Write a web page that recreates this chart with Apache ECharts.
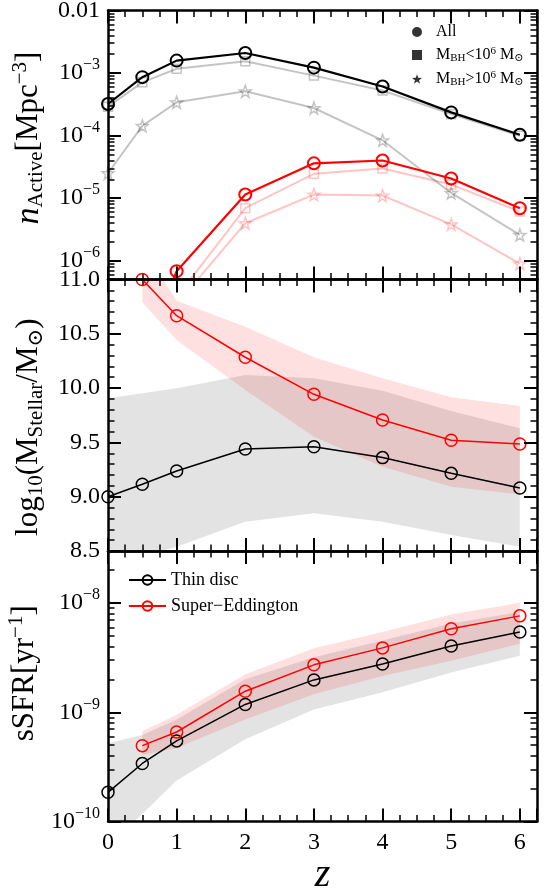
<!DOCTYPE html>
<html><head><meta charset="utf-8">
<script src="https://cdn.jsdelivr.net/npm/echarts@6/dist/echarts.min.js"></script>
<style>html,body{margin:0;padding:0;background:#fff}#c{width:547px;height:896px}</style>
</head><body><div id="c"></div>
<script>
// ---------- data ----------
const zTD = [0, 0.5, 1, 2, 3, 4, 5, 6];
const zSE = [0.5, 1, 2, 3, 4, 5, 6];
const zSEsub = [1, 2, 3, 4, 5, 6];

// panel 1: number density of active BHs [Mpc^-3]
const nTD_all  = [3.2e-4, 8.6e-4, 1.58e-3, 2.09e-3, 1.22e-3, 6.1e-4, 2.35e-4, 1.03e-4];
const nTD_low  = [2.9e-4, 7.1e-4, 1.17e-3, 1.54e-3, 9.1e-4, 5.25e-4, 2.2e-4, 9.9e-5];
const nTD_high = [2.5e-5, 1.43e-4, 3.4e-4, 5.1e-4, 2.76e-4, 8.4e-5, 1.21e-5, 2.58e-6];
const nSE_all  = [3e-8, 6.8e-7, 1.14e-5, 3.6e-5, 4.0e-5, 2.06e-5, 6.9e-6];
const nSE_low  = [2.6e-7, 6.9e-6, 2.45e-5, 2.98e-5, 1.65e-5, 6.1e-6];
const nSE_high = [2.0e-7, 3.97e-6, 1.14e-5, 1.1e-5, 3.8e-6, 9.0e-7];

// panel 2: log10 stellar mass
const mTD    = [9.0, 9.115, 9.237, 9.44, 9.46, 9.36, 9.215, 9.08];
const mTD_hi = [9.906, 9.952, 9.998, 10.12, 10.09, 9.976, 9.79, 9.63];
const mTD_lo = [8.35, 8.45, 8.54, 8.77, 8.847, 8.77, 8.647, 8.54];
const mSE    = [11.0, 10.667, 10.284, 9.943, 9.706, 9.52, 9.485];
const mSE_hi = [11.3, 10.805, 10.565, 10.284, 10.09, 9.915, 9.835];
const mSE_lo = [10.79, 10.443, 9.982, 9.553, 9.276, 9.092, 9.02];

// panel 3: sSFR [yr^-1]
const sTD    = [1.85e-10, 3.4e-10, 5.47e-10, 1.18e-9, 1.98e-9, 2.77e-9, 4.04e-9, 5.43e-9];
const sTD_hi = [5.2e-10, 6.2e-10, 8.6e-10, 2.01e-9, 3.19e-9, 4.54e-9, 6.5e-9, 8.3e-9];
const sTD_lo = [6e-11, 1.17e-10, 2.38e-10, 5.67e-10, 1.06e-9, 1.53e-9, 2.32e-9, 3.3e-9];
const sSE    = [4.95e-10, 6.6e-10, 1.56e-9, 2.72e-9, 3.89e-9, 5.83e-9, 7.64e-9];
const sSE_hi = [6.7e-10, 9.5e-10, 2.23e-9, 3.86e-9, 5.43e-9, 7.85e-9, 1.01e-8];
const sSE_lo = [4.07e-10, 4.7e-10, 8.6e-10, 1.46e-9, 2.15e-9, 2.96e-9, 4.24e-9];

// log-axis minor tick values (2..9 x 10^k)
const nMinorTicks = [6e-7,7e-7,8e-7,9e-7,2e-6,3e-6,4e-6,5e-6,6e-6,7e-6,8e-6,9e-6,2e-5,3e-5,4e-5,5e-5,6e-5,7e-5,8e-5,9e-5,2e-4,3e-4,4e-4,5e-4,6e-4,7e-4,8e-4,9e-4,2e-3,3e-3,4e-3,5e-3,6e-3,7e-3,8e-3,9e-3];
const sMinorTicks = [2e-10,3e-10,4e-10,5e-10,6e-10,7e-10,8e-10,9e-10,2e-9,3e-9,4e-9,5e-9,6e-9,7e-9,8e-9,9e-9,2e-8];

// ---------- styling ----------
const SERIF = '"Liberation Serif","DejaVu Serif",serif';
const STAR = 'path://M0,-10L2.35,-3.24L9.51,-3.09L3.8,1.24L5.88,8.09L0,4L-5.88,8.09L-3.8,1.24L-9.51,-3.09L-2.35,-3.24Z';
const GREY = 'rgba(0,0,0,0.23)';
const PINK = 'rgba(255,0,0,0.23)';
const GREYBAND = 'rgba(0,0,0,0.11)';
const PINKBAND = 'rgba(255,0,0,0.12)';
const TRANSP = 'rgba(0,0,0,0)';
const MINLEN = 6.5;

const pairs = (xs, ys) => xs.map((x, i) => [x, ys[i]]);

const panelBoxes = [
  {left: 108, right: 10, top: 10.5, height: 269},
  {left: 108, right: 10, top: 279.5, height: 271.5},
  {left: 108, right: 10, top: 551, height: 270.5}
];
// grids 0-2: data + major ticks; grids 3-5: same boxes, minor ticks
const grids = panelBoxes.map(b => Object.assign({containLabel: false, outerBoundsMode: 'none'}, b))
  .concat(panelBoxes.map(b => Object.assign({containLabel: false, outerBoundsMode: 'none'}, b)));

const frameLine = () => ({show: true, onZero: false, lineStyle: {color: '#000', width: 2.5}});
const ghostLine = () => ({show: true, onZero: false, lineStyle: {color: TRANSP, width: 1}});
const ghostSplit = () => ({show: true, lineStyle: {color: TRANSP, width: 1}});
const ghostLabel = () => ({show: true, inside: true, color: TRANSP, fontSize: 6, formatter: () => '.'});
const majTick = () => ({show: true, inside: true, length: 13, lineStyle: {color: '#000', width: 2}});
// minor ticks: outward ticks on an axis shifted inward by their own length => they end on the frame
const minTick = () => ({show: true, inside: false, length: MINLEN, lineStyle: {color: '#000', width: 1.5}});

const labRich = {
  b: {fontSize: 24, fontFamily: SERIF, color: '#000', lineHeight: 32},
  s: {fontSize: 16, fontFamily: SERIF, color: '#000', lineHeight: 16, verticalAlign: 'top'}
};
const titleRich = {
  b: {fontSize: 31, fontFamily: SERIF, color: '#000', lineHeight: 37},
  i: {fontSize: 34, fontFamily: SERIF, fontStyle: 'italic', color: '#000', lineHeight: 37},
  sub: {fontSize: 21, fontFamily: SERIF, color: '#000', lineHeight: 21, verticalAlign: 'bottom'},
  sup: {fontSize: 21, fontFamily: SERIF, color: '#000', lineHeight: 21, verticalAlign: 'top'}
};

function logLabel(v) {
  const l = Math.log10(v), e = Math.round(l);
  if (Math.abs(l - e) > 1e-6) return '';
  if (e === -2) return '{b|0.01}';
  return '{b|10}{s|\u2212' + (-e) + '}';
}

const xAxes = [], yAxes = [];
// x axes: [2g] bottom, [2g+1] top on grid g (major)
for (let g = 0; g < 3; g++) {
  const base = {gridIndex: g, type: 'value', min: 0, max: 6.25, interval: 1, z: 5, splitLine: {show: false}};
  xAxes.push(Object.assign({}, base, {
    position: 'bottom', axisLine: frameLine(), axisTick: majTick(),
    axisLabel: g === 2 ? {show: true, margin: 9, fontSize: 24, fontFamily: SERIF, color: '#000',
      formatter: v => (Number.isInteger(v) ? String(v) : '')} : {show: false},
    name: g === 2 ? 'z' : '', nameLocation: 'middle', nameGap: 34,
    nameTextStyle: {fontSize: 40, fontFamily: SERIF, fontStyle: 'italic', color: '#000'}
  }));
  xAxes.push(Object.assign({}, base, {position: 'top', axisLine: frameLine(), axisTick: majTick(), axisLabel: {show: false}}));
}
// x axes: [6+2g] bottom, [7+2g] top on grid 3+g (minor, every 0.25)
for (let g = 0; g < 3; g++) {
  const mk = (pos) => ({gridIndex: 3 + g, type: 'value', min: 0, max: 6.25, interval: 0.25, offset: -MINLEN,
    position: pos, splitLine: ghostSplit(), axisLine: ghostLine(), axisTick: minTick(), axisLabel: ghostLabel()});
  xAxes.push(mk('bottom'));
  xAxes.push(mk('top'));
}

const yScales = [
  {type: 'log', logBase: 10, min: 5e-7, max: 0.01},
  {type: 'value', min: 8.5, max: 11.0, interval: 0.5},
  {type: 'log', logBase: 10, min: 1e-10, max: 3e-8}
];
const yLabels = [
  {formatter: logLabel, rich: labRich},
  {formatter: v => v.toFixed(1)},
  {formatter: logLabel, rich: labRich}
];
const yNames = [
  '{i|n}{sub|Active}{b|[Mpc}{sup|\u22123}{b|]}',
  '{b|log}{sub|10}{b|(M}{sub|Stellar}{b|/M}{sub|\u2299}{b|)}',
  '{b|sSFR[yr}{sup|\u22121}{b|]}'
];
const yNamePad = [[0, 0, 0, 14], [0, 24, 0, 0], [0, 0, 0, 26]];
// y axes: [2g] left, [2g+1] right on grid g (major)
for (let g = 0; g < 3; g++) {
  const base = Object.assign({gridIndex: g, z: 5, splitLine: {show: false}}, yScales[g]);
  yAxes.push(Object.assign({}, base, {
    position: 'left', axisLine: frameLine(), axisTick: majTick(),
    axisLabel: Object.assign({show: true, margin: 8, fontSize: 24, fontFamily: SERIF, color: '#000'}, yLabels[g]),
    name: yNames[g], nameLocation: 'middle', nameRotate: 90, nameGap: 51,
    nameTextStyle: {rich: titleRich, padding: yNamePad[g]}
  }));
  yAxes.push(Object.assign({}, base, {position: 'right', axisLine: frameLine(), axisTick: majTick(), axisLabel: {show: false}}));
}
// y axes: [6+2g] left, [7+2g] right on grid 3+g (minor)
const minorVals = [nMinorTicks, null, sMinorTicks];
for (let g = 0; g < 3; g++) {
  const mk = (pos) => {
    const a = Object.assign({gridIndex: 3 + g, offset: -MINLEN, position: pos}, yScales[g],
      {splitLine: ghostSplit(), axisLine: ghostLine(), axisLabel: ghostLabel(), axisTick: minTick()});
    if (minorVals[g]) a.axisTick.customValues = minorVals[g]; else a.interval = 0.1;
    return a;
  };
  yAxes.push(mk('left'));
  yAxes.push(mk('right'));
}

// series on grid gi (0-2 major grids, 3-5 overlay grids of same box)
function axisIdx(gi) { return gi < 3 ? {x: 2 * gi, y: 2 * gi} : {x: 6 + 2 * (gi - 3), y: 6 + 2 * (gi - 3)}; }
function lineSeries(gi, name, xs, ys, color, width, symbol, size, bw) {
  const a = axisIdx(gi);
  return {
    type: 'line', name: name, xAxisIndex: a.x, yAxisIndex: a.y,
    data: pairs(xs, ys), symbol: symbol, symbolSize: size, showAllSymbol: true,
    lineStyle: {color: color, width: width},
    itemStyle: {color: TRANSP, borderColor: color, borderWidth: bw},
    emphasis: {disabled: true}, silent: true, z: 3
  };
}
function band(gi, xs, lo, hi, color) {
  const a = axisIdx(gi);
  return {
    type: 'custom', xAxisIndex: a.x, yAxisIndex: a.y, clip: true, silent: true, z: 1,
    data: [[xs[3], hi[3]]],
    renderItem: function (params, api) {
      const pts = [];
      for (let i = 0; i < xs.length; i++) pts.push(api.coord([xs[i], hi[i]]));
      for (let i = xs.length - 1; i >= 0; i--) pts.push(api.coord([xs[i], lo[i]]));
      const cs = params.coordSys;
      return {
        type: 'group',
        clipPath: {type: 'rect', shape: {x: cs.x, y: cs.y, width: cs.width, height: cs.height}},
        children: [{type: 'polygon', shape: {points: pts}, style: {fill: color, stroke: null}}]
      };
    }
  };
}

// all data series live on the major grids so that they keep the panel geometry
const series = [
  // panel 1
  lineSeries(0, 'se_high', zSEsub, nSE_high, PINK, 2, STAR, 12, 1.5),
  lineSeries(0, 'se_low', zSEsub, nSE_low, PINK, 2, 'rect', 9, 1.5),
  lineSeries(0, 'td_high', zTD, nTD_high, GREY, 2, STAR, 12, 1.5),
  lineSeries(0, 'td_low', zTD, nTD_low, GREY, 2, 'rect', 9, 1.5),
  lineSeries(0, 'se_all', zSE, nSE_all, '#ff0000', 2.2, 'circle', 12, 2),
  lineSeries(0, 'td_all', zTD, nTD_all, '#000000', 2.2, 'circle', 12, 2),
  // panel 2
  band(1, zTD, mTD_lo, mTD_hi, GREYBAND),
  band(1, zSE, mSE_lo, mSE_hi, PINKBAND),
  lineSeries(1, 'td_m', zTD, mTD, '#000000', 1.5, 'circle', 12, 1.5),
  lineSeries(1, 'se_m', zSE, mSE, '#ff0000', 1.5, 'circle', 12, 1.5),
  // panel 3
  band(2, zTD, sTD_lo, sTD_hi, GREYBAND),
  band(2, zSE, sSE_lo, sSE_hi, PINKBAND),
  lineSeries(2, 'Thin disc', zTD, sTD, '#000000', 1.5, 'circle', 12, 1.5),
  lineSeries(2, 'Super\u2212Eddington', zSE, sSE, '#ff0000', 1.5, 'circle', 12, 1.5),
  // legend-only markers
  {type: 'scatter', name: 'All', xAxisIndex: 0, yAxisIndex: 0, data: [], symbol: 'circle', itemStyle: {color: '#000'}},
  {type: 'scatter', name: 'Mlt', xAxisIndex: 0, yAxisIndex: 0, data: [], symbol: 'rect', itemStyle: {color: '#000'}},
  {type: 'scatter', name: 'Mgt', xAxisIndex: 0, yAxisIndex: 0, data: [], symbol: STAR, itemStyle: {color: '#000'}}
];

const legRich = {
  f: {fontSize: 16, fontFamily: SERIF, color: '#000', lineHeight: 18, padding: [0, 0, 0, 9]},
  t: {fontSize: 16, fontFamily: SERIF, color: '#000', lineHeight: 18},
  s: {fontSize: 11, fontFamily: SERIF, color: '#000', lineHeight: 11, verticalAlign: 'bottom'},
  p: {fontSize: 11, fontFamily: SERIF, color: '#000', lineHeight: 11, verticalAlign: 'top'}
};

const option = {
  animation: false,
  backgroundColor: '#fff',
  grid: grids,
  xAxis: xAxes,
  yAxis: yAxes,
  legend: [
    {
      data: [{name: 'All', icon: 'circle'}, {name: 'Mlt', icon: 'rect'}, {name: 'Mgt', icon: STAR}],
      orient: 'vertical', left: 407, top: 19, itemWidth: 10, itemHeight: 10, itemGap: 6,
      selectedMode: false,
      formatter: function (n) {
        if (n === 'All') return '{f|All}';
        if (n === 'Mlt') return '{f|M}{s|BH}{t|<10}{p|6}{t| M}{s|\u2299}';
        return '{f|M}{s|BH}{t|>10}{p|6}{t| M}{s|\u2299}';
      },
      textStyle: {rich: legRich}
    },
    {
      data: ['Thin disc', 'Super\u2212Eddington'],
      orient: 'vertical', left: 123, top: 565, itemWidth: 37, itemHeight: 12, itemGap: 6,
      selectedMode: false,
      textStyle: {fontSize: 18, fontFamily: SERIF, color: '#000', lineHeight: 20}
    }
  ],
  series: series
};

const chart = echarts.init(document.getElementById('c'), null, {renderer: 'canvas'});
chart.setOption(option);
</script>
</body></html>
